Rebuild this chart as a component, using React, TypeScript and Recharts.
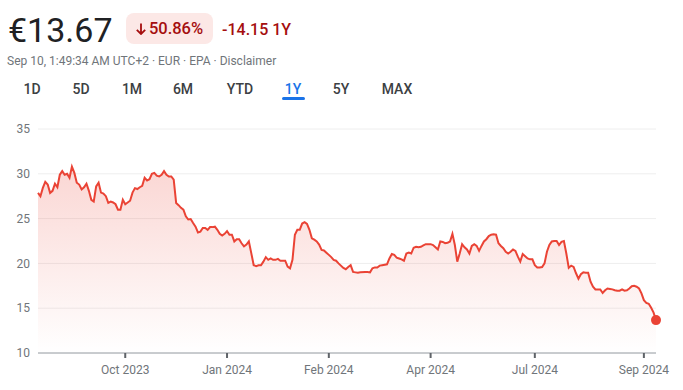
import React from 'react';
import { ComposedChart, Area, XAxis, YAxis, CartesianGrid, ReferenceDot } from 'recharts';

// trading session index (0 = Sep 11 2023) and closing price in EUR
const days = [
  0, 1, 2, 3, 4, 5, 6, 7, 8, 9, 10, 11, 12, 13, 14, 15, 16, 17, 18, 19,
  20, 21, 22, 23, 24, 25, 26, 27, 28, 29, 30, 31, 32, 33, 34, 35, 36, 37, 38, 39,
  40, 41, 42, 43, 44, 45, 46, 47, 48, 49, 50, 51, 52, 53, 54, 55, 56, 57, 58, 59,
  60, 61, 62, 63, 64, 65, 66, 67, 68, 69, 70, 71, 72, 73, 74, 75, 76, 77, 78, 79,
  80, 81, 82, 83, 84, 85, 86, 87, 88, 89, 90, 91, 92, 93, 94, 95, 96, 97, 98, 99,
  100, 101, 102, 103, 104, 105, 106, 107, 108, 109, 110, 111, 112, 113, 114, 115, 116, 117, 118, 119,
  120, 121, 122, 123, 124, 126, 127, 128, 129, 130, 131, 132, 133, 135, 136, 137, 138, 139, 140, 141,
  142, 144, 145, 146, 147, 148, 149, 150, 151, 152, 153, 154, 155, 156, 157, 158, 159, 160, 162, 163,
  164, 165, 166, 167, 168, 169, 170, 171, 172, 173, 174, 175, 176, 177, 178, 179, 180, 181, 182, 183,
  184, 185, 186, 187, 188, 189, 190, 191, 192, 193, 194, 195, 196, 197, 198, 199, 200, 201, 202, 203,
  204, 205, 206, 207, 208, 209, 210, 211, 212, 213, 214, 215, 216, 217, 218, 219, 220, 221, 222, 223,
  224, 225, 226, 227, 228, 229, 230, 231, 232, 233, 234, 235, 236, 237, 238, 239, 240, 241, 242, 243,
  244, 245, 246, 247, 248, 249, 250, 251, 252, 253, 254, 255,
];

const prices = [
  27.87, 27.5, 28.43, 29.1, 28.8, 27.87, 28.1, 28.9, 28.5, 29.9, 30.3, 29.9, 30.0, 29.55, 30.8, 30.1, 29.0, 28.8, 28.25, 28.5,
  28.9, 28.1, 27.1, 26.9, 28.6, 29.0, 27.9, 27.8, 27.5, 26.75, 26.9, 26.8, 26.6, 26.0, 26.0, 27.1, 26.6, 26.8, 27.0, 27.9,
  28.4, 28.3, 28.5, 28.65, 29.55, 29.25, 29.4, 30.0, 30.1, 29.8, 29.7, 29.9, 30.3, 29.9, 29.7, 29.7, 29.35, 26.75, 26.5, 26.2,
  26.0, 25.25, 24.9, 24.95, 24.5, 24.1, 23.45, 23.55, 23.95, 23.95, 23.75, 24.05, 24.05, 24.1, 23.75, 23.3, 23.1, 23.3, 23.6, 23.2,
  23.2, 22.45, 22.7, 22.7, 22.25, 21.9, 22.1, 22.45, 21.15, 19.8, 19.7, 19.8, 19.8, 20.2, 20.7, 20.4, 20.55, 20.4, 20.4, 20.5,
  20.3, 20.3, 20.3, 19.65, 19.45, 20.4, 23.2, 23.75, 23.75, 24.45, 24.6, 24.4, 23.75, 22.8, 22.65, 22.45, 22.1, 21.5, 21.45, 21.2,
  20.95, 20.7, 20.4, 20.3, 20.0, 19.5, 19.35, 19.6, 19.8, 19.05, 19.0, 18.95, 19.0, 19.05, 19.05, 19.0, 19.45, 19.55, 19.55, 19.75,
  19.8, 19.9, 20.55, 21.05, 20.95, 20.65, 20.55, 20.45, 20.3, 21.1, 21.2, 21.1, 21.75, 21.85, 21.8, 21.85, 22.0, 22.15, 22.15, 22.05,
  21.8, 21.55, 22.45, 22.4, 22.25, 22.3, 22.45, 23.3, 22.05, 20.2, 21.1, 22.15, 21.8, 21.55, 21.1, 21.95, 22.15, 21.95, 21.4, 21.95,
  22.45, 22.7, 23.05, 23.2, 23.25, 23.2, 22.25, 21.95, 21.7, 21.3, 21.1, 21.3, 21.55, 21.4, 20.75, 20.2, 21.05, 20.8, 20.55, 20.45,
  20.45, 19.8, 19.55, 19.55, 19.6, 20.0, 21.3, 22.05, 22.45, 22.5, 22.5, 22.05, 22.4, 22.5, 21.1, 19.5, 19.75, 19.6, 18.9, 18.3,
  18.8, 19.0, 18.95, 18.95, 17.95, 17.4, 17.1, 17.1, 17.1, 16.7, 17.0, 17.2, 17.15, 17.1, 17.0, 16.95, 16.95, 17.1, 16.95, 17.0,
  17.2, 17.45, 17.5, 17.4, 17.2, 16.65, 15.9, 15.6, 15.5, 15.05, 14.5, 13.67,
];

const tickDays = [36, 78, 120, 162, 205, 250];
const tickLabels = ['Oct 2023', 'Jan 2024', 'Feb 2024', 'Apr 2024', 'Jul 2024', 'Sep 2024'];
const yTicks = [10, 15, 20, 25, 30, 35];
const tabs = ['1D', '5D', '1M', '6M', 'YTD', '1Y', '5Y', 'MAX'];
const tabCenters = [32, 81, 132, 183, 240, 293, 341, 397];

const data = days.map((d, i) => ({ day: d, price: prices[i] }));
const last = data[data.length - 1];

const red = '#ea4335';
const darkRed = '#a50e0e';
const grey = '#70757a';

export default function App() {
  return (
    <div
      style={{
        position: 'absolute',
        left: 0,
        top: 0,
        width: 683,
        height: 390,
        background: '#fff',
        fontFamily: 'Roboto, Arial, sans-serif',
        overflow: 'hidden',
      }}
    >
      <div style={{ position: 'absolute', left: 8, top: 13, fontSize: 34, lineHeight: '34px', color: '#202124' }}>
        €13.67
      </div>
      <div
        style={{
          position: 'absolute',
          left: 126,
          top: 13,
          width: 87,
          height: 31,
          borderRadius: 8,
          background: '#fce8e6',
          color: darkRed,
          fontSize: 16.5,
          fontWeight: 500,
          display: 'flex',
          alignItems: 'center',
          justifyContent: 'center',
          gap: 3,
        }}
      >
        <svg width={10} height={12} viewBox="0 0 10 12">
          <path d="M5 0.5 V11 M0.8 6.8 L5 11 L9.2 6.8" stroke={darkRed} strokeWidth={1.8} fill="none" />
        </svg>
        <span>50.86%</span>
      </div>
      <div
        style={{
          position: 'absolute',
          left: 222,
          top: 19,
          fontSize: 16,
          lineHeight: '22px',
          fontWeight: 500,
          color: darkRed,
        }}
      >
        -14.15 1Y
      </div>
      <div style={{ position: 'absolute', left: 7, top: 53, fontSize: 12, lineHeight: '16px', color: grey }}>
        Sep 10, 1:49:34 AM UTC+2 · EUR · EPA · Disclaimer
      </div>
      {tabs.map((t, i) => (
        <div
          key={t}
          style={{
            position: 'absolute',
            left: tabCenters[i],
            top: 80,
            transform: 'translateX(-50%)',
            fontSize: 14,
            lineHeight: '18px',
            fontWeight: 500,
            color: t === '1Y' ? '#1a73e8' : '#3c4043',
          }}
        >
          {t}
        </div>
      ))}
      <div
        style={{
          position: 'absolute',
          left: 282,
          top: 97,
          width: 23,
          height: 3,
          borderRadius: 2,
          background: '#1a73e8',
        }}
      />
      <div style={{ position: 'absolute', left: 0, top: 110 }}>
        <ComposedChart width={683} height={280} data={data} margin={{ top: 19, right: 27, left: 0, bottom: 0 }}>
          <defs>
            <linearGradient id="priceFill" x1="0" y1="0" x2="0" y2="1">
              <stop offset="0%" stopColor={red} stopOpacity={0.36} />
              <stop offset="100%" stopColor={red} stopOpacity={0} />
            </linearGradient>
          </defs>
          <CartesianGrid vertical={false} stroke="#eeeeee" />
          <XAxis
            dataKey="day"
            type="number"
            domain={[0, 255]}
            ticks={tickDays}
            tickFormatter={(v: number) => tickLabels[tickDays.indexOf(v)]}
            height={37}
            tickSize={5}
            tickMargin={7}
            axisLine={{ stroke: '#9aa0a6' }}
            tickLine={{ stroke: '#5f6368', strokeWidth: 2 }}
            tick={{ fill: grey, fontSize: 12 }}
          />
          <YAxis
            domain={[10, 35]}
            ticks={yTicks}
            width={38}
            axisLine={false}
            tickLine={false}
            tick={{ fill: grey, fontSize: 12 }}
          />
          <Area
            type="linear"
            dataKey="price"
            stroke={red}
            strokeWidth={2}
            fill="url(#priceFill)"
            dot={false}
            activeDot={false}
            isAnimationActive={false}
          />
          <ReferenceDot x={last.day} y={last.price} r={5} fill={red} stroke="none" />
        </ComposedChart>
      </div>
    </div>
  );
}
